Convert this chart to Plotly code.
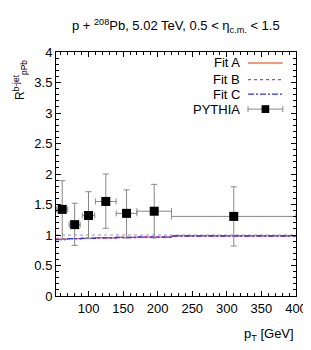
import plotly.graph_objects as go

# Data
pt = [62, 80, 100, 125, 155, 195, 310]
pt_err = [8, 8, 9, 15, 15, 25, 90]
r_pythia = [1.42, 1.17, 1.32, 1.55, 1.355, 1.39, 1.305]
r_err_up = [0.47, 0.35, 0.39, 0.45, 0.385, 0.44, 0.485]
r_err_dn = [0.49, 0.34, 0.38, 0.44, 0.405, 0.44, 0.485]

fit_x = [53, 70, 90, 110, 140, 170, 220, 400]
fit_a = [0.93, 0.94, 0.945, 0.955, 0.96, 0.965, 0.985, 0.985]
fit_b = [0.935, 0.94, 0.947, 0.955, 0.962, 0.967, 0.987, 0.987]
fit_c = [0.925, 0.94, 0.944, 0.954, 0.959, 0.964, 0.984, 0.984]

FONT = "Liberation Sans, Arial, sans-serif"
fig = go.Figure()

fig.add_trace(go.Scatter(x=fit_x, y=fit_a, mode="lines", line=dict(color="#f07850", width=1.3, shape="hv"), name="Fit A"))
fig.add_trace(go.Scatter(x=fit_x, y=fit_b, mode="lines", line=dict(color="#b040c0", width=1.3, dash="3px,3px", shape="hv"), name="Fit B"))
fig.add_trace(go.Scatter(x=fit_x, y=fit_c, mode="lines", line=dict(color="#3030ff", width=1.3, dash="6px,2px,2px,2px", shape="hv"), name="Fit C"))

fig.add_trace(go.Scatter(
    x=pt, y=r_pythia, mode="markers", name="PYTHIA",
    marker=dict(symbol="square", size=9, color="black"),
    error_x=dict(type="data", array=pt_err, color="#888888", thickness=1, width=3),
    error_y=dict(type="data", array=r_err_up, arrayminus=r_err_dn, color="#888888", thickness=1, width=3),
))

# dotted line at 1
fig.add_shape(type="line", xref="paper", yref="y", x0=0, x1=1, y0=1, y1=1,
              line=dict(color="#999999", width=1, dash="dot"), layer="below")

# custom legend (text right, sample right)
legend_rows = [("Fit A", 0.955), ("Fit B", 0.887), ("Fit C", 0.827), ("PYTHIA", 0.766)]
styles = [dict(color="#f07850", width=1.3), dict(color="#b040c0", width=1.3, dash="3px,3px"),
          dict(color="#3030ff", width=1.3, dash="6px,2px,2px,2px")]
x_text = 0.774
xs0, xs1 = 0.80, 0.945
for i, (lab, yy) in enumerate(legend_rows):
    fig.add_annotation(text=lab, xref="paper", yref="paper", x=x_text, y=yy, xanchor="right",
                       yanchor="middle", showarrow=False, font=dict(family=FONT, size=13, color="black"))
    if i < 3:
        fig.add_shape(type="line", xref="paper", yref="paper", x0=xs0, x1=xs1, y0=yy, y1=yy, line=styles[i])
    else:
        fig.add_shape(type="line", xref="paper", yref="paper", x0=xs0, x1=xs1, y0=yy, y1=yy, line=dict(color="#888888", width=1))
        for xe in (xs0, xs1):
            fig.add_shape(type="line", xref="paper", yref="paper", x0=xe, x1=xe, y0=yy - 0.012, y1=yy + 0.012, line=dict(color="#888888", width=1))
        xm = (xs0 + xs1) / 2
        fig.add_shape(type="rect", xref="paper", yref="paper", x0=xm - 0.016, x1=xm + 0.016, y0=yy - 0.016, y1=yy + 0.016,
                      fillcolor="black", line=dict(color="black", width=0))

# title
fig.add_annotation(text="p + <sup>208</sup>Pb, 5.02 TeV, 0.5 < η<sub>c.m.</sub> < 1.5", xref="paper", yref="paper",
                   x=0.5, y=1.0, yshift=26, xanchor="center", yanchor="middle", showarrow=False,
                   font=dict(family=FONT, size=13, color="black"))
# y label
fig.add_annotation(text="R<sup>b-jet</sup><sub>pPb</sub>", xref="paper", yref="paper", x=0, xshift=-36, y=1.0, yshift=-6,
                   xanchor="center", yanchor="top", textangle=-90, showarrow=False,
                   font=dict(family=FONT, size=12, color="black"))
# x label
fig.add_annotation(text="p<sub>T</sub> [GeV]", xref="paper", yref="paper", x=1.0, y=0, yshift=-38,
                   xanchor="right", yanchor="middle", showarrow=False,
                   font=dict(family=FONT, size=13, color="black"))

axis_common = dict(showgrid=False, zeroline=False, showline=True, linecolor="black", linewidth=1,
                   ticks="inside", mirror="allticks", tickcolor="black", ticklen=5,
                   tickfont=dict(family=FONT, size=13, color="black"))
fig.update_xaxes(range=[53, 400], tick0=0, dtick=50, minor=dict(dtick=10, ticks="inside", ticklen=3, tickcolor="black"), **axis_common)
fig.update_yaxes(range=[0, 4], tick0=0, dtick=0.5, minor=dict(dtick=0.1, ticks="inside", ticklen=3, tickcolor="black"), **axis_common)

fig.update_layout(width=311, height=350, margin=dict(l=48, r=18, t=44, b=62),
                  plot_bgcolor="white", paper_bgcolor="white", showlegend=False,
                  font=dict(family=FONT, size=13, color="black"))
fig.write_html("out.html")
